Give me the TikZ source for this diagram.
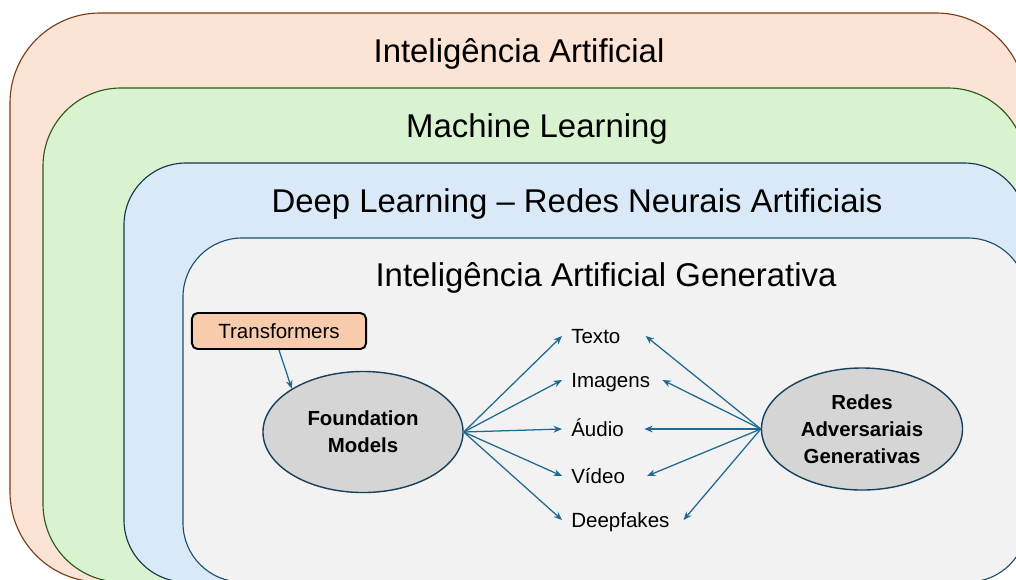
\documentclass[tikz,border=0pt]{standalone}
\usepackage{fontspec}
\setmainfont{Liberation Sans}
\usetikzlibrary{arrows.meta,positioning,shapes.geometric}

\definecolor{aiFill}{HTML}{FBE3D6}
\definecolor{aiLine}{HTML}{7A3A16}
\definecolor{mlFill}{HTML}{D9F2D0}
\definecolor{mlLine}{HTML}{2B5A1A}
\definecolor{dlFill}{HTML}{DAE9F7}
\definecolor{dlLine}{HTML}{10384F}
\definecolor{genFill}{HTML}{F2F2F2}
\definecolor{genLine}{HTML}{1B4F6B}
\definecolor{modelFill}{HTML}{D5D5D5}
\definecolor{modelLine}{HTML}{17405A}
\definecolor{linkBlue}{HTML}{1F6A8F}
\definecolor{trFill}{HTML}{F8CBAD}

\begin{document}
\begin{tikzpicture}[
    x=0.025cm, y=-0.025cm,
    >={Stealth[length=6pt,width=4.8pt]},
    layer/.style={line width=0.8pt},
    title/.style={font=\fontsize{23.4}{28}\selectfont, inner sep=0pt,
      text height=16.8pt, text depth=0pt},
    item/.style={font=\fontsize{14.6}{17}\selectfont, anchor=west,
      inner xsep=0.225cm, inner ysep=0pt, text height=10.5pt, text depth=0pt},
    model/.style={ellipse, draw=modelLine, line width=1pt, fill=modelFill,
      inner sep=0pt, align=center, font=\fontsize{14.5}{19}\selectfont\bfseries},
    tagbox/.style={draw=black, line width=1.4pt, rounded corners=4pt, fill=trFill,
      minimum width=4.35cm, minimum height=0.9cm, inner sep=0pt,
      font=\fontsize{14.6}{17}\selectfont, text height=10.5pt, text depth=0pt},
    link/.style={->, draw=linkBlue, line width=0.9pt},
  ]
  \useasboundingbox (0,0) rectangle (1016,579);
  \clip (0,0) rectangle (1016,579);

  % Nested areas
  \draw[layer, draw=aiLine, fill=aiFill, rounded corners=2.25cm] (10,13) rectangle (1026,582);
  \draw[layer, draw=mlLine, fill=mlFill, rounded corners=1.95cm] (43,88) rectangle (1026,582);
  \draw[layer, draw=dlLine, fill=dlFill, rounded corners=1.55cm] (124,163) rectangle (1026,582);
  \draw[layer, draw=genLine, fill=genFill, rounded corners=1.475cm] (183,238) rectangle (1027,582);

  % Titles
  \node[title] (aiTitle) at (519,50.5) {Inteligência Artificial};
  \node[title] (mlTitle) at (537,126) {Machine Learning};
  \node[title] (dlTitle) at (577,201) {Deep Learning -- Redes Neurais Artificiais};
  \node[title] (genTitle) at (606,275) {Inteligência Artificial Generativa};

  % Models
  \node[tagbox] (trans) at (279,331) {Transformers};
  \node[model, minimum width=5cm, minimum height=3.025cm] (fm) at (363,432) {Foundation\\Models};
  \node[model, minimum width=5.025cm, minimum height=3.05cm] (gan) at (862,429) {Redes\\Adversariais\\Generativas};

  % Outputs
  \foreach \name/\txt/\ypos/\gap in {texto/Texto/336/0.4cm, imagens/Imagens/380/0.08cm,
      audio/Áudio/429/0.28cm, video/Vídeo/476/0.32cm, deepfakes/Deepfakes/520/0.12cm} {
    \node[item] (\name) at (562,\ypos) {\txt};
    \draw[link] (fm.east) -- (\name.west);
    \draw[link] (gan.west) -- ([xshift=\gap]\name.east);
  }

  % Edges
  \draw[link] (trans.south) -- (fm.north west);
\end{tikzpicture}
\end{document}
